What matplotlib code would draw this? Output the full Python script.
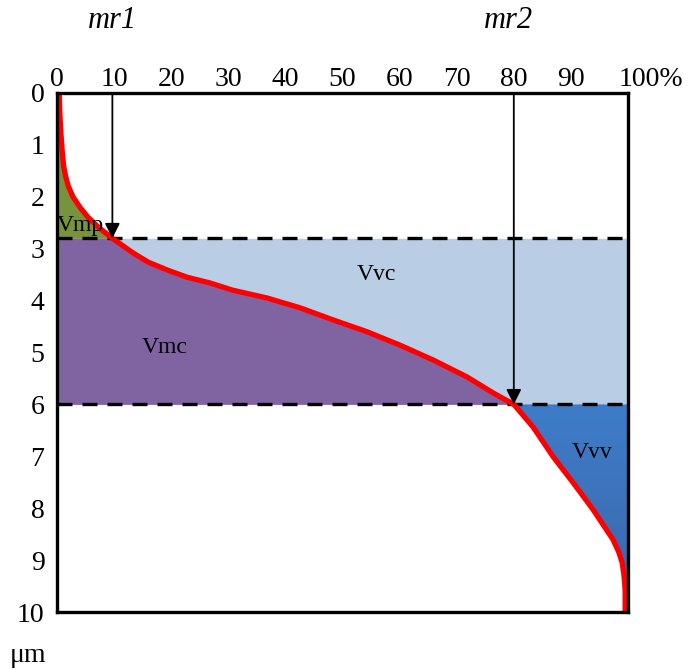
import numpy as np
import matplotlib
matplotlib.use('Agg')
import matplotlib.pyplot as plt
from matplotlib.patches import Polygon
from matplotlib.colors import LinearSegmentedColormap
from matplotlib.transforms import ScaledTranslation, blended_transform_factory

# Abbott-Firestone (bearing area) curve
depth = [0.0, 0.4, 0.8, 1.1, 1.4, 1.6, 1.8, 2.0, 2.2, 2.39, 2.58, 2.8, 3.08, 3.26, 3.41,
         3.55, 3.66, 3.80, 3.95, 4.14, 4.37, 4.60, 4.86, 5.14, 5.47, 5.78, 6.0, 6.44,
         7.01, 7.51, 8.03, 8.61, 8.85, 9.06, 9.3, 9.58, 10.0]
ratio = [0.4, 0.5, 0.7, 0.9, 1.15, 1.5, 2.0, 2.8, 4.0, 5.4, 7.2, 9.7, 13.3, 16.0, 19.3,
         22.8, 26.8, 30.8, 36.8, 42.6, 48.3, 54.3, 60.1, 65.8, 71.8, 76.4, 80.0, 83.4,
         86.9, 90.4, 93.9, 97.4, 98.4, 99.0, 99.3, 99.5, 99.5]
mr1, mr2 = 9.7, 80.0
d1, d2 = 2.8, 6.0
xticks = [0, 10, 20, 30, 40, 50, 60, 70, 80, 90, 100]
xticklabels = ['0', '10', '20', '30', '40', '50', '60', '70', '80', '90', '100%']
yticks = [0, 1, 2, 3, 4, 5, 6, 7, 8, 9, 10]
region_labels = ['Vmp', 'Vmc', 'Vvc', 'Vvv']

serif = ['Liberation Serif', 'DejaVu Serif']
plt.rcParams['font.family'] = serif

fig = plt.figure(figsize=(6.91, 6.70), dpi=100)
ax = fig.add_axes([57/691, 1-612/670, (628-57)/691, (612-93)/670])

d = np.array(depth)
r = np.array(ratio)

# Regions
m1 = d <= d1
ax.fill_betweenx(d[m1], 0, r[m1], color='#77933C', lw=0, zorder=1)
m2 = (d >= d1) & (d <= d2)
ax.fill_betweenx(d[m2], 0, r[m2], color='#8064A2', lw=0, zorder=1)
ax.fill_betweenx(d[m2], r[m2], 100, color='#B9CDE5', lw=0, zorder=1)

m3 = d >= d2
verts = list(zip(r[m3], d[m3])) + [(100, 10), (100, d2)]
poly = Polygon(verts, closed=True, facecolor='none', edgecolor='none', transform=ax.transData)
ax.add_patch(poly)
cmap = LinearSegmentedColormap.from_list('vvv', ['#3E7CC9', '#3D72BA', '#3766A6'])
grad = np.linspace(0, 1, 200).reshape(-1, 1)
im = ax.imshow(grad, extent=(0, 100, 10, d2), origin='upper', aspect='auto', cmap=cmap, zorder=1)
im.set_clip_path(poly)

# Dashed levels
for lv in (d1, d2):
    ax.plot([0, 100], [lv, lv], color='black', lw=2.4, ls=(0, (4.5, 3.0)), zorder=2)

# Curve
ax.plot(r, d, color='#FF0000', lw=3.8, solid_joinstyle='round', solid_capstyle='butt', zorder=4)

# Arrows
for mx, dy in ((mr1, d1), (mr2, d2)):
    ax.annotate('', xy=(mx, dy), xytext=(mx, 0),
                arrowprops=dict(arrowstyle='-|>,head_length=0.9,head_width=0.45',
                                color='black', lw=1.3, shrinkA=0, shrinkB=0), zorder=5)

# Region labels
fs_r = 17
ax.text(0.0, 2.56, region_labels[0], fontsize=fs_r, ha='left', va='center', zorder=6)
ax.text(18.9, 4.9, region_labels[1], fontsize=fs_r, ha='center', va='center', zorder=6)
ax.text(55.9, 3.5, region_labels[2], fontsize=fs_r, ha='center', va='center', zorder=6)
ax.text(93.7, 6.92, region_labels[3], fontsize=fs_r, ha='center', va='center', zorder=6)

ax.set_xlim(0, 100)
ax.set_ylim(10, 0)
ax.xaxis.tick_top()
ax.set_xticks(xticks)
ax.set_xticklabels(xticklabels)
ax.set_yticks(yticks)
ax.tick_params(length=0, labelsize=20)
ax.tick_params(axis='x', pad=1)
ax.tick_params(axis='y', pad=9)
lbl = ax.get_xticklabels()[-1]
lbl.set_horizontalalignment('left')
lbl.set_transform(lbl.get_transform() + ScaledTranslation(-9/100, 0, fig.dpi_scale_trans))

for s in ax.spines.values():
    s.set_linewidth(2.4)
    s.set_color('black')
    s.set_zorder(7)

tr = blended_transform_factory(ax.transData, fig.transFigure)
ax.text(mr1, 1-20/670, 'mr1', transform=tr, fontsize=22, style='italic', ha='center', va='center')
ax.text(mr2 - 1, 1-20/670, 'mr2', transform=tr, fontsize=22, style='italic', ha='center', va='center')
fig.text(28/691, 1-655/670, 'μm', fontsize=20, ha='center', va='center')

fig.savefig('out.png', dpi=100)
